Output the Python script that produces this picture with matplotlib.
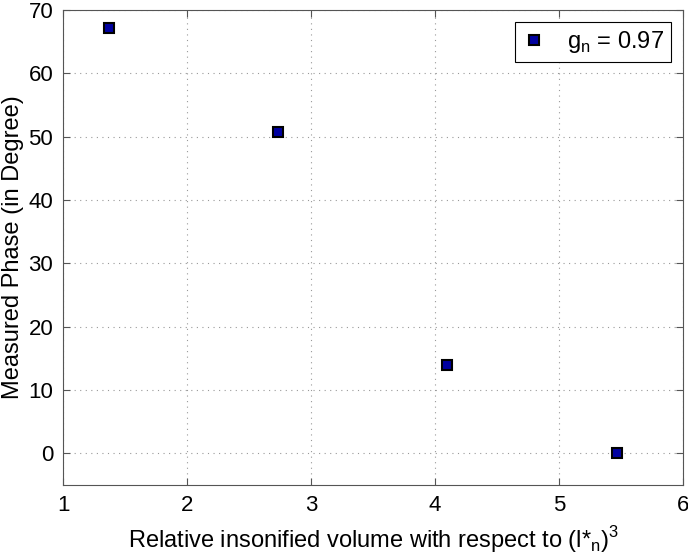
import matplotlib
matplotlib.use('Agg')
import matplotlib.pyplot as plt

# data
volume = [1.37, 2.73, 4.10, 5.47]
phase = [67.2, 50.8, 13.9, 0.0]
legend_label = r'g$_\mathregular{n}$ = 0.97'

plt.rcParams['font.family'] = ['Liberation Sans', 'DejaVu Sans']
plt.rcParams['mathtext.fontset'] = 'custom'
plt.rcParams['mathtext.rm'] = 'Liberation Sans'

fig = plt.figure(figsize=(6.88, 5.59), dpi=100)
ax = fig.add_axes([0.0916, 0.1324, 0.9011, 0.8497])

ax.plot(volume, phase, linestyle='none', marker='s', markersize=6.5,
        markerfacecolor='#0000a0', markeredgecolor='black', markeredgewidth=1.5,
        label=legend_label)

ax.set_xlim(1, 6)
ax.set_ylim(-5, 70)
ax.set_xticks(range(1, 7))
ax.set_yticks(range(0, 71, 10))
ax.grid(True, linestyle=(0, (1, 4)), color='#999999', linewidth=0.8)
ax.tick_params(direction='in', labelsize=16, length=5, top=True, right=True,
               color='#555555', pad=7)
for s in ax.spines.values():
    s.set_color('#555555')

ax.set_xlabel(r'Relative insonified volume with respect to (l*$_\mathregular{n}$)$^\mathregular{3}$',
              fontsize=17, labelpad=6)
ax.set_ylabel('Measured Phase (in Degree)', fontsize=17, labelpad=3)

leg = ax.legend(loc='upper right', fontsize=17, fancybox=False, framealpha=1,
                edgecolor='black', handlelength=1.0, borderpad=0.3,
                handletextpad=0.9, borderaxespad=0.5)
leg.get_frame().set_linewidth(0.8)

fig.savefig('out.png', dpi=100)
